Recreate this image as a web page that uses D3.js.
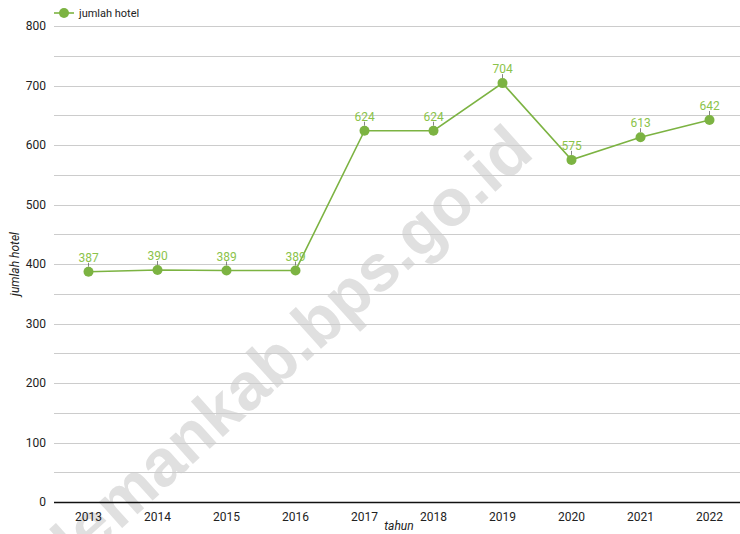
<!DOCTYPE html>
<html>
<head>
<meta charset="utf-8">
<script src="https://cdn.jsdelivr.net/npm/d3@7"></script>
<style>
    body { margin: 0; background: #fff; }
    svg text { font-family: Roboto, "Noto Sans", sans-serif; }
</style>
</head>
<body>
<div id="chart"></div>
<script>
var years = ["2013", "2014", "2015", "2016", "2017", "2018", "2019", "2020", "2021", "2022"];
var hotels = [387, 390, 389, 389, 624, 624, 704, 575, 613, 642];
var yTicks = [0, 100, 200, 300, 400, 500, 600, 700, 800];
var seriesName = "jumlah hotel";

var W = 740, H = 534;
var margin = { top: 26, right: 0, bottom: 32, left: 54 };
var lineColor = "#7cb342",
    labelColor = "#8bc34a";

var svg = d3.select("#chart").append("svg")
    .attr("width", W)
    .attr("height", H);

var x = d3.scalePoint()
    .domain(years)
    .range([margin.left, W + 4])
    .padding(0.5);

var y = d3.scaleLinear()
    .domain([0, 800])
    .range([H - margin.bottom, margin.top]);

// watermark (behind the grid), split at the dot so it sits in place
var wm = svg.append("g")
    .attr("transform", "translate(304,364) rotate(-42)")
    .attr("font-size", 66)
    .attr("font-weight", "bold")
    .attr("fill", "#e0e0e0");
wm.append("text").attr("text-anchor", "end")
    .style("font-family", "'Liberation Sans', Arial, sans-serif")
    .text("slemankab");
wm.append("text").attr("text-anchor", "start")
    .style("font-family", "'Liberation Sans', Arial, sans-serif")
    .text(".bps.go.id");

// grid, every 50
var grid = d3.range(50, 801, 50);
svg.append("g").selectAll("line")
    .data(grid)
    .enter().append("line")
    .attr("x1", margin.left).attr("x2", W)
    .attr("y1", function (d) { return Math.round(y(d)) + 0.5; })
    .attr("y2", function (d) { return Math.round(y(d)) + 0.5; })
    .attr("stroke", "#cccccc")
    .attr("stroke-width", 1);

// y tick labels
svg.append("g").selectAll("text")
    .data(yTicks)
    .enter().append("text")
    .attr("x", 46)
    .attr("y", function (d) { return y(d); })
    .attr("dy", "0.35em")
    .attr("text-anchor", "end")
    .attr("font-size", 12)
    .attr("fill", "#222")
    .text(function (d) { return d; });

// baseline
svg.append("line")
    .attr("x1", margin.left).attr("x2", W)
    .attr("y1", y(0) + 0.5).attr("y2", y(0) + 0.5)
    .attr("stroke", "#111")
    .attr("stroke-width", 1.3);

// x axis labels
svg.append("g").selectAll("text")
    .data(years)
    .enter().append("text")
    .attr("x", function (d) { return x(d); })
    .attr("y", y(0) + 15)
    .attr("dy", "0.35em")
    .attr("text-anchor", "middle")
    .attr("font-size", 12)
    .attr("fill", "#222")
    .text(function (d) { return d; });

// axis titles
svg.append("text")
    .attr("x", (margin.left + W + 4) / 2)
    .attr("y", 530)
    .attr("text-anchor", "middle")
    .attr("font-size", 12)
    .attr("font-style", "italic")
    .attr("fill", "#222")
    .text("tahun");

svg.append("text")
    .attr("transform", "translate(19," + (y(400)) + ") rotate(-90)")
    .attr("text-anchor", "middle")
    .attr("font-size", 12)
    .attr("font-style", "italic")
    .attr("fill", "#222")
    .text(seriesName);

// line
var line = d3.line()
    .x(function (d, i) { return x(years[i]); })
    .y(function (d) { return y(d); });

svg.append("path")
    .datum(hotels)
    .attr("d", line)
    .attr("fill", "none")
    .attr("stroke", lineColor)
    .attr("stroke-width", 1.6);

// data labels with small leader ticks
var lbl = svg.append("g").selectAll("g")
    .data(hotels)
    .enter().append("g")
    .attr("transform", function (d, i) { return "translate(" + x(years[i]) + "," + y(d) + ")"; });

lbl.append("line")
    .attr("x1", 0).attr("x2", 0)
    .attr("y1", -9).attr("y2", -5)
    .attr("stroke", "#666")
    .attr("stroke-width", 0.8);

lbl.append("text")
    .attr("y", -10)
    .attr("text-anchor", "middle")
    .attr("font-size", 12)
    .attr("fill", labelColor)
    .text(function (d) { return d; });

svg.append("g").selectAll("circle")
    .data(hotels)
    .enter().append("circle")
    .attr("cx", function (d, i) { return x(years[i]); })
    .attr("cy", function (d) { return y(d); })
    .attr("r", 5)
    .attr("fill", lineColor);

// legend
var leg = svg.append("g").attr("transform", "translate(54,13)");
leg.append("line")
    .attr("x1", 0).attr("x2", 20)
    .attr("stroke", lineColor).attr("stroke-width", 1.6);
leg.append("circle")
    .attr("cx", 10).attr("r", 5)
    .attr("fill", lineColor);
leg.append("text")
    .attr("x", 25)
    .attr("dy", "0.35em")
    .attr("font-size", 11)
    .attr("fill", "#222")
    .text(seriesName);
</script>
</body>
</html>
